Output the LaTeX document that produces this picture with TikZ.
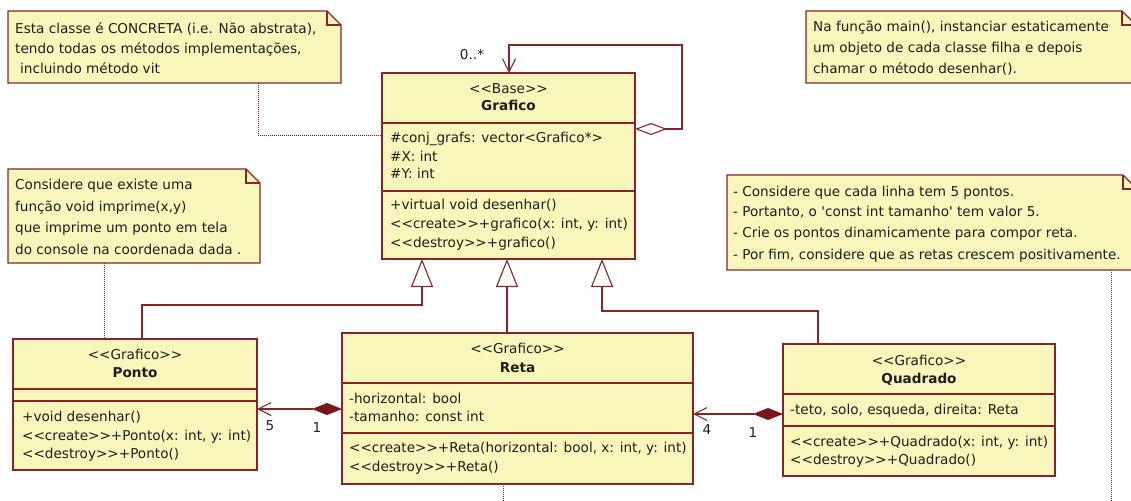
\documentclass[tikz,border=0pt]{standalone}
\usepackage{fontspec}
\setmainfont{DejaVu Sans}
\usetikzlibrary{arrows.meta}
\definecolor{umlfill}{RGB}{248,246,186}
\definecolor{umlline}{RGB}{134,36,40}
\definecolor{umldark}{RGB}{120,22,26}
\definecolor{umltext}{RGB}{30,30,30}
% stereotype brackets without the TeX guillemet ligature
\newcommand\umlst[1]{<\kern0pt<#1>\kern0pt>}
% note outline with a folded corner, drawn around an invisible node
\newcommand\drawnote[1]{%
  \draw[noteline] (#1.north west) -- ([xshift=-14pt]#1.north east)
    -- ([yshift=-14pt]#1.north east) -- (#1.south east) -- (#1.south west) -- cycle;
  \draw[noteline, fill=none] ([xshift=-14pt]#1.north east) |- ([yshift=-14pt]#1.north east);}
\begin{document}
\begin{tikzpicture}[x=1pt, y=-1pt,
  every node/.style={font=\fontsize{13.6pt}{16pt}\selectfont, text=umltext},
  txt/.style={inner sep=0pt, text height=9pt, text depth=0pt, anchor=west},
  ctxt/.style={txt, anchor=center},
  bold/.style={font=\fontsize{13.6pt}{16pt}\selectfont\bfseries},
  classbox/.style={draw=umlline, fill=umlfill, line width=1.1pt, anchor=north west,
    inner sep=0pt, outer sep=0pt},
  sepline/.style={draw=umlline, line width=1.1pt},
  notebody/.style={draw=none, anchor=north west, inner sep=0pt, outer sep=0pt},
  noteline/.style={draw=umlline, fill=umlfill, line width=1.1pt, line join=miter},
  noteconn/.style={draw=umlline, line width=1pt, densely dotted},
  gen/.style={draw=umlline, line width=1.1pt,
    -{Triangle[open, length=28pt, width=22pt, fill=white]}},
  comp/.style={draw=umlline, line width=1.1pt,
    {Diamond[length=30pt, width=12pt, fill=umldark, color=umldark]}-{Straight Barb[length=13pt, width=13pt]}},
  aggr/.style={draw=umlline, line width=1.1pt,
    {Diamond[open, length=32pt, width=12pt, fill=white]}-{Straight Barb[length=13pt, width=13pt]}},
  mult/.style={inner sep=0pt, anchor=center}]

\useasboundingbox (0,0) rectangle (1131,500);

% ---------- notes ----------
\node[notebody, minimum width=333pt, minimum height=72pt] (note1) at (8,11) {};
\drawnote{note1}
\node[txt] (note1-l1) at (15,29) {Esta classe é CONCRETA (i.e. Não abstrata),};
\node[txt] (note1-l2) at (15,49) {tendo todas os métodos implementações,};
\node[txt] (note1-l3) at (20,69) {incluindo método vit};

\node[notebody, minimum width=330pt, minimum height=72pt] (note2) at (806,11) {};
\drawnote{note2}
\node[txt] (note2-l1) at (813,27) {Na função main(), instanciar estaticamente};
\node[txt] (note2-l2) at (813,48) {um objeto de cada classe filha e depois};
\node[txt] (note2-l3) at (813,69) {chamar o método desenhar().};

\node[notebody, minimum width=252pt, minimum height=94pt] (note3) at (8,169) {};
\drawnote{note3}
\node[txt] (note3-l1) at (15,185) {Considere que existe uma};
\node[txt] (note3-l2) at (15,207) {função void imprime(x,y)};
\node[txt] (note3-l3) at (15,228) {que imprime um ponto em tela};
\node[txt] (note3-l4) at (15,250) {do console na coordenada dada .};

\node[notebody, minimum width=410pt, minimum height=95pt] (note4) at (727,175) {};
\drawnote{note4}
\node[txt] (note4-l1) at (733,192) {- Considere que cada linha tem 5 pontos.};
\node[txt] (note4-l2) at (733,212) {- Portanto, o \textquotesingle const int tamanho\textquotesingle\ tem valor 5.};
\node[txt] (note4-l3) at (733,233) {- Crie os pontos dinamicamente para compor reta.};
\node[txt] (note4-l4) at (733,255) {- Por fim, considere que as retas crescem positivamente.};

% ---------- class Grafico ----------
\node[classbox, minimum width=253pt, minimum height=186pt] (base) at (382,73) {};
\draw[sepline] ([yshift=-50pt]base.north west) -- ([yshift=-50pt]base.north east);
\draw[sepline] ([yshift=-118pt]base.north west) -- ([yshift=-118pt]base.north east);
\node[ctxt] (base-st) at (508.5,89) {\umlst{Base}};
\node[ctxt, bold] (base-nm) at (508.5,106) {Grafico};
\node[txt] (base-a1) at (390,138) {\#conj\_grafs: vector<Grafico*>};
\node[txt] (base-a2) at (390,157) {\#X: int};
\node[txt] (base-a3) at (390,174) {\#Y: int};
\node[txt] (base-m1) at (390,205) {+virtual void desenhar()};
\node[txt] (base-m2) at (390,224) {\umlst{create}+grafico(x: int, y: int)};
\node[txt] (base-m3) at (390,243) {\umlst{destroy}+grafico()};

% ---------- class Ponto ----------
\node[classbox, minimum width=244pt, minimum height=131pt] (ponto) at (13,339) {};
\draw[sepline] ([yshift=-50pt]ponto.north west) -- ([yshift=-50pt]ponto.north east);
\draw[sepline] ([yshift=-62pt]ponto.north west) -- ([yshift=-62pt]ponto.north east);
\node[ctxt] (ponto-st) at (135,355) {\umlst{Grafico}};
\node[ctxt, bold] (ponto-nm) at (135,373) {Ponto};
\node[txt] (ponto-m1) at (22,417) {+void desenhar()};
\node[txt] (ponto-m2) at (22,436) {\umlst{create}+Ponto(x: int, y: int)};
\node[txt] (ponto-m3) at (22,454) {\umlst{destroy}+Ponto()};

% ---------- class Reta ----------
\node[classbox, minimum width=351pt, minimum height=151pt] (reta) at (342,333) {};
\draw[sepline] ([yshift=-50pt]reta.north west) -- ([yshift=-50pt]reta.north east);
\draw[sepline] ([yshift=-100pt]reta.north west) -- ([yshift=-100pt]reta.north east);
\node[ctxt] (reta-st) at (517.5,349) {\umlst{Grafico}};
\node[ctxt, bold] (reta-nm) at (517.5,368) {Reta};
\node[txt] (reta-a1) at (349,399) {-horizontal: bool};
\node[txt] (reta-a2) at (349,417) {-tamanho: const int};
\node[txt] (reta-m1) at (349,448) {\umlst{create}+Reta(horizontal: bool, x: int, y: int)};
\node[txt] (reta-m2) at (349,467) {\umlst{destroy}+Reta()};

% ---------- class Quadrado ----------
\node[classbox, minimum width=272pt, minimum height=132pt] (quad) at (783,344) {};
\draw[sepline] ([yshift=-50pt]quad.north west) -- ([yshift=-50pt]quad.north east);
\draw[sepline] ([yshift=-82pt]quad.north west) -- ([yshift=-82pt]quad.north east);
\node[ctxt] (quad-st) at (919,361) {\umlst{Grafico}};
\node[ctxt, bold] (quad-nm) at (919,379) {Quadrado};
\node[txt] (quad-a1) at (790,410) {-teto, solo, esqueda, direita: Reta};
\node[txt] (quad-m1) at (790,442) {\umlst{create}+Quadrado(x: int, y: int)};
\node[txt] (quad-m2) at (790,460) {\umlst{destroy}+Quadrado()};

% ---------- generalizations ----------
\draw[gen] ([xshift=129pt]ponto.north west) -- ++(0,-34) -| ([xshift=40pt]base.south west);
\draw[gen] ([xshift=165pt]reta.north west) -- ([xshift=125pt]base.south west);
\draw[gen] ([xshift=35pt]quad.north west) -- ++(0,-33) -| ([xshift=220pt]base.south west);

% ---------- associations ----------
\draw[aggr] ([yshift=-56pt]base.north east) -- ++(47,0)
  |- ([xshift=127pt, yshift=28pt]base.north west) -- ([xshift=127pt]base.north west);
\node[mult] (m-self) at (472,55) {0..*};

\draw[comp] ([yshift=-76pt]reta.north west) -- ([yshift=-70pt]ponto.north east);
\node[mult] (m-ponto) at (270,426) {5};
\node[mult] (m-reta1) at (317,428) {1};

\draw[comp] ([yshift=-70pt]quad.north west) -- ([yshift=-81pt]reta.north east);
\node[mult] (m-reta4) at (707,430) {4};
\node[mult] (m-quad1) at (753,433) {1};

% ---------- note anchors ----------
\draw[noteconn] ([xshift=250pt]note1.south west) |- ([yshift=-62pt]base.north west);
\draw[noteconn] ([xshift=96pt]note3.south west) -- ([xshift=91pt]ponto.north west);
\coordinate (note4-end) at (1111,502);
\draw[noteconn] ([xshift=384pt]note4.south west) -- (note4-end);
\coordinate (reta-end) at (503,502);
\draw[noteconn] ([xshift=161pt]reta.south west) -- (reta-end);
\end{tikzpicture}
\end{document}
